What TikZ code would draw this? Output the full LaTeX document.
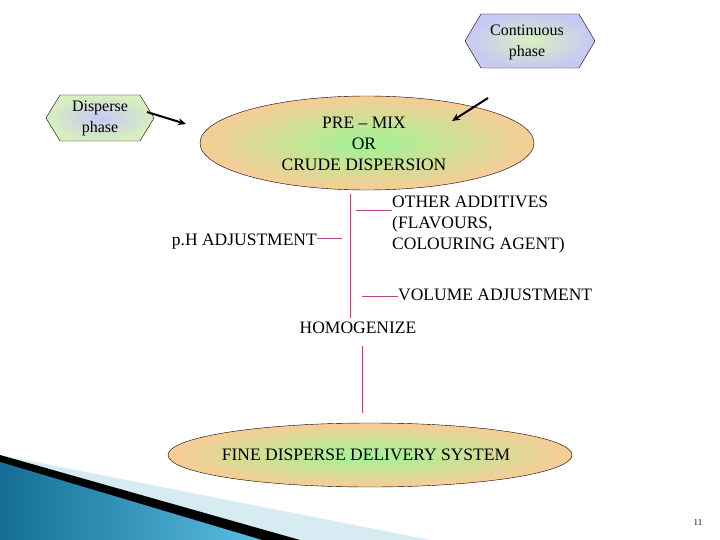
\documentclass[tikz,border=0pt]{standalone}
\usepackage{fontspec}
\setmainfont{Liberation Serif}
\usetikzlibrary{shapes.geometric,arrows.meta}
\definecolor{orng}{RGB}{248,204,150}
\definecolor{grn}{RGB}{160,245,150}
\definecolor{lav}{RGB}{200,200,245}
\definecolor{lgrn}{RGB}{215,240,190}
\definecolor{pinkl}{RGB}{180,70,130}
\definecolor{teal1}{RGB}{20,110,150}
\definecolor{teal2}{RGB}{90,190,225}
\definecolor{pale}{RGB}{215,235,242}
\begin{document}
\begin{tikzpicture}[x=1pt,y=-1pt,
  txt/.style={font=\fontsize{17.5}{21}\selectfont,align=center,inner sep=0pt},
  ell/.style={ellipse,draw,inner sep=0pt,inner color=grn,outer color=orng},
  lk/.style={pinkl,line width=0.9pt},
  arr/.style={line width=2pt,-{Stealth[length=8pt,width=7pt]}}]
\useasboundingbox (0,0) rectangle (720,540);
% decoration
\fill[pale] (0,455) -- (430,540) -- (0,540) -- cycle;
\fill[black] (0,455) -- (300,540) -- (0,540) -- cycle;
\shade[left color=teal1, right color=teal2] (0,462) -- (262,540) -- (0,540) -- cycle;
% hexagons
\path[draw,inner color=lav,outer color=lgrn] (46,118) -- (60,95) -- (140,95) -- (154,118) -- (140,141) -- (60,141) -- cycle;
\node[txt,font=\fontsize{16}{21}\selectfont] (dp) at (100,118) {Disperse\\phase};
\path[draw,inner color=lgrn,outer color=lav] (465,41) -- (481,14) -- (579,14) -- (595,41) -- (579,68) -- (481,68) -- cycle;
\node[txt,font=\fontsize{16}{21}\selectfont] (cp) at (527,42) {Continuous\\phase};
% ellipses
\node[ell,minimum width=334pt,minimum height=94pt] (pm) at (367,143) {};
\node[txt] at (364,144) {PRE -- MIX\\OR\\CRUDE DISPERSION};
\node[ell,minimum width=404pt,minimum height=64pt] (fd) at (370,455) {};
\node[txt] at (366,455) {FINE DISPERSE DELIVERY SYSTEM};
% arrows
\coordinate (a1s) at (147,112); \coordinate (a1e) at (186,124);
\coordinate (a2s) at (488,98); \coordinate (a2e) at (452,121);
\draw[arr] (a1s) -- (a1e);
\draw[arr] (a2s) -- (a2e);
% texts
\node[txt,align=left,anchor=west] (oa) at (392,225) {OTHER ADDITIVES\\(FLAVOURS,\\COLOURING AGENT)};
\node[txt,anchor=east] (ph) at (317,242) {p.H ADJUSTMENT};
\node[txt,anchor=west] (va) at (398,295) {VOLUME ADJUSTMENT};
\node[txt] (ho) at (358,328) {HOMOGENIZE};
% lines
\draw[lk] (350,194) -- (350,318);
\draw[lk] (356,210) -- (oa.west |- 0,210);
\draw[lk] (ph.east |- 0,238) -- (342,238);
\draw[lk] (362,296) -- (va.west |- 0,296);
\draw[lk] (362,346) -- (362,413);
\node[font=\fontsize{9}{10}\selectfont] at (698,523) {11};
\end{tikzpicture}
\end{document}
